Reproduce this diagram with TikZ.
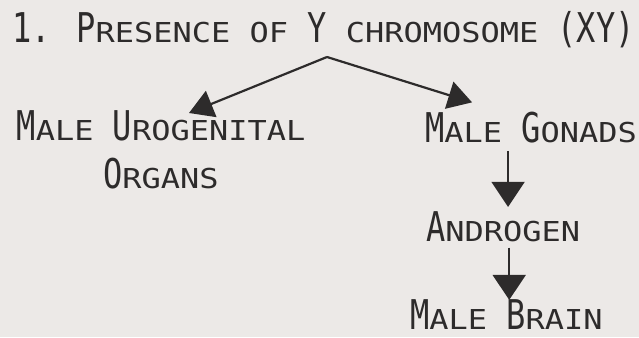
\documentclass[tikz,border=0pt]{standalone}
\usepackage{fontspec}
\usepackage{xcolor}
\usetikzlibrary{arrows.meta}

\newfontfamily\capfont[FakeStretch=0.78]{DejaVu Sans Mono}
\newfontfamily\lowfont[FakeStretch=1.167]{DejaVu Sans Mono}
\newcommand{\sm}[1]{{\lowfont\fontsize{27.4}{30}\selectfont #1}}

\definecolor{paper}{RGB}{236,233,231}
\definecolor{ink}{RGB}{45,43,43}

\begin{document}
\begin{tikzpicture}[
  x=1pt, y=-1pt,
  font=\capfont\fontsize{41}{48}\selectfont,
  txt/.style={inner sep=0pt, text=ink, anchor=base west},
  line/.style={draw=ink, line width=2.2pt, -{Triangle[length=24pt,width=28pt]}},
  down/.style={line, line width=1.8pt, -{Triangle[length=25pt,width=33pt]}}
]
  \fill [paper, use as bounding box] (0,0) rectangle (639,337);

  \node [txt] (title) at (12,43) {1. P\sm{RESENCE OF} Y \sm{CHROMOSOME} (XY)};
  \coordinate (fork) at (327,57);
  \node [txt, anchor=north, align=center] (urog) at (161,110) {M\sm{ALE} U\sm{ROGENITAL}\\O\sm{RGANS}};
  \node [txt] (gonads) at (425,142) {M\sm{ALE} G\sm{ONADS}};
  \node [txt] (androgen) at (426,241) {A\sm{NDROGEN}};
  \node [txt] (brain) at (410,329) {M\sm{ALE} B\sm{RAIN}};

  \draw [line] (fork) -- ([xshift=28pt,yshift=-3pt]urog.north);
  \draw [line] (fork) -- ([xshift=-59pt,yshift=9pt]gonads.north);

  \draw [down] ([xshift=-23pt,yshift=-8pt]gonads.south) -- ([xshift=-23pt,yshift=4pt]gonads.south |- androgen.north);
  \draw [down] ([xshift=6pt,yshift=-6pt]androgen.south) -- ([xshift=6pt,yshift=-1pt]androgen.south |- brain.north);
\end{tikzpicture}
\end{document}
